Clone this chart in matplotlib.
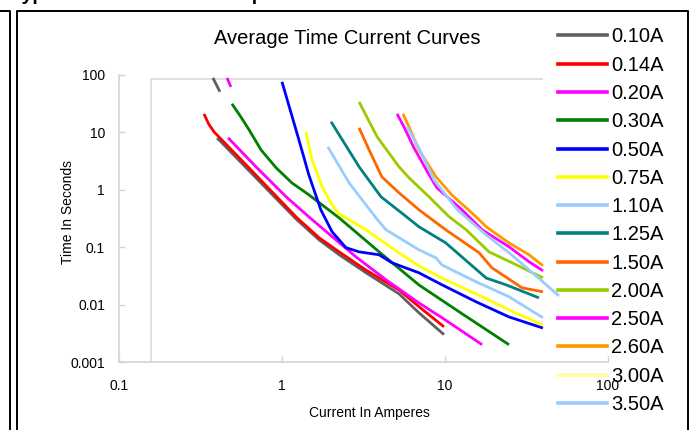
import numpy as np
import matplotlib
matplotlib.use('Agg')
import matplotlib.pyplot as plt
from matplotlib.lines import Line2D
from matplotlib.ticker import FixedLocator, NullLocator

plt.rcParams['font.family'] = ['Liberation Sans', 'DejaVu Sans']

nan = np.nan

# ---------------- data ----------------
labels = ['0.10A', '0.14A', '0.20A', '0.30A', '0.50A', '0.75A', '1.10A',
          '1.25A', '1.50A', '2.00A', '2.50A', '2.60A', '3.00A', '3.50A']
colors = ['#606060', '#FF0000', '#FF00FF', '#008000', '#0000FF', '#FFFF00',
          '#99CCFF', '#008080', '#FF6600', '#99CC00', '#FF00FF', '#FF9900',
          '#FFFF99', '#99CCFF']

x_010 = [0.377, 0.416, nan, 0.40, 1.22, 1.69, 2.24, 3.27, 5.22, 6.92, 9.86]
y_010 = [89, 51, nan, 8.0, 0.31, 0.134, 0.074, 0.036, 0.0154, 0.0072, 0.0030]

x_014 = [0.332, 0.355, 0.383, 0.628, 1.236, 1.69, 2.24, 3.27, 5.22, 6.92, 9.86]
y_014 = [21, 14, 10.2, 2.4, 0.325, 0.146, 0.083, 0.040, 0.018, 0.0092, 0.0041]

x_020 = [0.46, 0.486, nan, 0.467, 0.692, 1.06, 1.46, 2.84, 4.35, 6.92, 9.59, 16.9]
y_020 = [89, 62, nan, 8.05, 2.52, 0.755, 0.339, 0.068, 0.027, 0.0107, 0.0059, 0.0020]

x_030 = [0.493, 0.56, 0.628, 0.743, 0.92, 1.15, 1.46, 2.24, 3.94, 6.92, 12.2, 24.7]
y_030 = [31.5, 18.5, 11.1, 4.97, 2.42, 1.32, 0.82, 0.325, 0.083, 0.022, 0.0075, 0.0020]

x_050 = [1.0, 1.27, 1.46, 1.73, 2.03, 2.47, 2.97, 3.94, 4.73, 6.92, 9.59, 15.5, 24.7, 39.9]
y_050 = [76, 7.4, 1.83, 0.449, 0.185, 0.098, 0.083, 0.0738, 0.0535, 0.0358, 0.0221,
         0.0112, 0.0061, 0.0039]

x_075 = [1.40, 1.53, 1.76, 2.03, 2.24, 3.27, 5.22, 6.92, 9.59, 16.9, 24.7, 39.9]
y_075 = [10.2, 3.33, 1.13, 0.548, 0.38, 0.201, 0.080, 0.047, 0.029, 0.0137, 0.0081, 0.0044]

x_110 = [1.91, 2.58, 3.77, 4.35, 6.92, 8.81, 9.59, 15.5, 24.7, 39.9]
y_110 = [5.6, 1.32, 0.325, 0.201, 0.090, 0.065, 0.049, 0.025, 0.0137, 0.0059]

x_125 = [2.0, 2.97, 4.05, 5.6, 6.92, 10.1, 17.9, 23.7, 37.7]
y_125 = [15.3, 2.52, 0.755, 0.367, 0.227, 0.119, 0.029, 0.0221, 0.0131]

x_150 = [2.97, 3.42, 4.1, 5.22, 6.92, 10.1, 16.2, 19.4, 29.7, 39.9]
y_150 = [12.0, 4.97, 1.68, 0.887, 0.449, 0.201, 0.080, 0.0438, 0.0196, 0.0167]

x_200 = [2.97, 3.83, 5.22, 6.01, 7.98, 10.6, 13.5, 18.6, 25.8, 39.9]
y_200 = [34, 8.4, 2.52, 1.62, 0.755, 0.339, 0.201, 0.083, 0.0535, 0.0293]

x_250 = [5.08, 5.6, 6.45, 7.98, 8.93, 12.7, 16.9, 24.7, 32.8, 39.9]
y_250 = [21.1, 12.5, 5.4, 1.83, 1.08, 0.449, 0.201, 0.1016, 0.0557, 0.0388]

x_260 = [5.52, 6.01, 6.92, 8.81, 11.0, 15.5, 17.9, 24.7, 32.8, 39.9]
y_260 = [21.1, 12.5, 4.97, 1.68, 0.818, 0.339, 0.227, 0.119, 0.0737, 0.0474]

x_300 = []
y_300 = []

x_350 = [5.85, 6.92, 8.56, 11.9, 17.9, 24.7, 32.8, 50.0]
y_350 = [12.5, 5.4, 1.49, 0.449, 0.164, 0.080, 0.0404, 0.0142]

xs = [x_010, x_014, x_020, x_030, x_050, x_075, x_110, x_125, x_150, x_200,
      x_250, x_260, x_300, x_350]
ys = [y_010, y_014, y_020, y_030, y_050, y_075, y_110, y_125, y_150, y_200,
      y_250, y_260, y_300, y_350]

tick_vals_x = [0.1, 1, 10, 100]
tick_labels_x = ['0.1', '1', '10', '100']
tick_vals_y = [0.001, 0.01, 0.1, 1, 10, 100]
tick_labels_y = ['0.001', '0.01', '0.1', '1', '10', '100']

# ---------------- figure ----------------
W, H = 696, 430
fig = plt.figure(figsize=(W / 100, H / 100), dpi=100)
fig.patch.set_facecolor('white')

ax = fig.add_axes([119 / W, 1 - 362 / H, (608 - 119) / W, (362 - 75) / H])
ax.set_xscale('log')
ax.set_yscale('log')
ax.set_xlim(0.1, 100)
ax.set_ylim(0.001, 100)

grey = '#D4D4D4'
for side in ['top', 'right']:
    ax.spines[side].set_visible(False)
for side in ['left', 'bottom']:
    ax.spines[side].set_color(grey)
    ax.spines[side].set_linewidth(1.2)

ax.xaxis.set_major_locator(FixedLocator(tick_vals_x))
ax.yaxis.set_major_locator(FixedLocator(tick_vals_y))
ax.xaxis.set_minor_locator(NullLocator())
ax.yaxis.set_minor_locator(NullLocator())
ax.set_xticklabels(tick_labels_x)
ax.set_yticklabels(tick_labels_y)
ax.tick_params(axis='both', direction='in', length=4, width=1, color=grey,
               labelsize=10, labelcolor='black')
ax.tick_params(axis='y', pad=10)
ax.tick_params(axis='x', pad=12)

# inner plot-area frame (left and top edges)
ax.plot([0.0654, 0.0654, 0.865], [0.0, 0.986, 0.986], transform=ax.transAxes,
        color='#DADADA', lw=1.2, zorder=1, clip_on=False)

handles = []
for xv, yv, c, lab in zip(xs, ys, colors, labels):
    ax.plot(xv, yv, color=c, lw=2.0, zorder=3, solid_capstyle='butt',
            solid_joinstyle='round')
    handles.append(Line2D([], [], color=c, lw=2.6))

fig.legend(handles, labels, loc='upper left', bbox_to_anchor=(558 / W, 1 - 27.5 / H),
           frameon=False, fontsize=14.5, handlelength=2.45, handletextpad=0.2,
           labelspacing=0.46, borderaxespad=0, borderpad=0)

# texts
fig.text(347 / W, 1 - 39 / H, 'Average Time Current Curves', ha='center', va='center',
         fontsize=14.5)
fig.text(68 / W, 1 - 212 / H, 'Time In Seconds', rotation=90, ha='center', va='center',
         fontsize=10)
fig.text(369 / W, 1 - 413 / H, 'Current In Amperes', ha='center', va='center',
         fontsize=10)
fig.text(11 / W, 1.0, 'Typical Time Current Comparison', ha='left', va='baseline',
         fontsize=14, fontweight='bold')

# outer frames
fl = dict(color='black', lw=1.4, transform=fig.transFigure)
fig.add_artist(Line2D([0, 10 / W, 10 / W], [1 - 11 / H, 1 - 11 / H, -0.1], **fl))
fig.add_artist(Line2D([17 / W, 17 / W, 688 / W, 688 / W],
                      [-0.1, 1 - 11 / H, 1 - 11 / H, -0.1], **fl))

fig.savefig('out.png', dpi=100)
